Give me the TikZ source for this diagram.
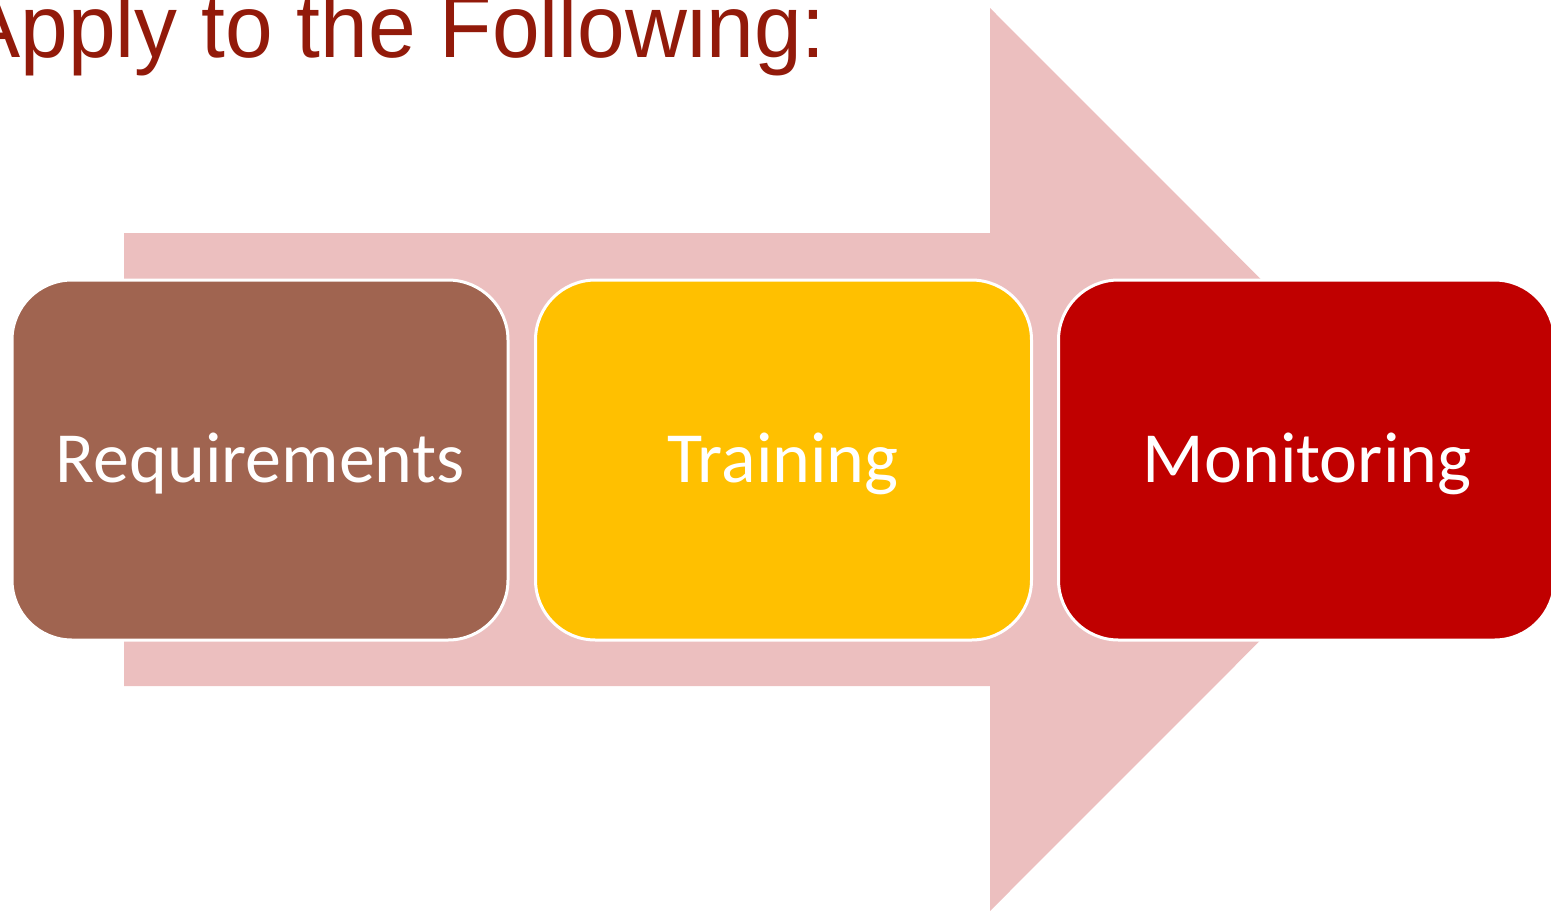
\documentclass[tikz,border=0pt]{standalone}
\usepackage{fontspec}
\setmainfont{Carlito}
\newfontfamily\titlefont{Liberation Sans}
\definecolor{arrowpink}{RGB}{236,191,191}
\definecolor{reqbrown}{RGB}{160,100,80}
\definecolor{traingold}{RGB}{255,192,0}
\definecolor{monred}{RGB}{192,0,0}
\definecolor{titlered}{RGB}{146,26,10}
\begin{document}
\begin{tikzpicture}[x=1pt,y=-1pt,
  box/.style={draw=white, line width=3pt, rounded corners=60pt, minimum width=496pt, minimum height=360pt, inner sep=0pt},
  boxtext/.style={anchor=base, inner sep=0pt, text=white, font=\fontsize{72}{80}\selectfont}]
\useasboundingbox (0,0) rectangle (1551,911);
\fill[arrowpink] (124,233) -- (990,233) -- (990,8) -- (1441,459.5) -- (990,911) -- (990,686) -- (124,686) -- cycle;
\node[box, fill=reqbrown] (req) at (260,460) {};
\node[box, fill=traingold] (train) at (783.5,460) {};
\node[box, fill=monred] (mon) at (1306.5,460) {};
\node[boxtext] (reqt) at (260,482) {Requirements};
\node[boxtext] (traint) at (783,482) {Training};
\node[boxtext] (mont) at (1307,482) {Monitoring};
\node[anchor=base west, inner sep=0pt, yscale=1.04, text=titlered, font=\titlefont\fontsize{85.7}{92}\selectfont] (title) at (-36.7,57) {Apply to the Following:};
\end{tikzpicture}
\end{document}
